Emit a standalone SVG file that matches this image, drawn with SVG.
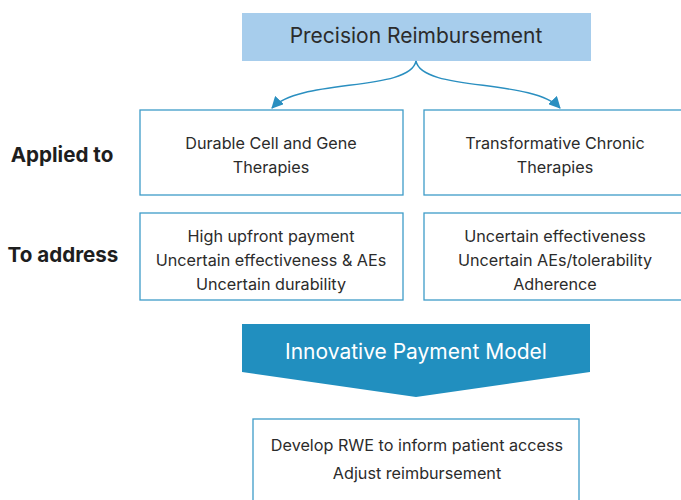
<svg xmlns="http://www.w3.org/2000/svg" width="681" height="500" viewBox="0 0 681 500">
<style>
text{font-family:Inter,"Liberation Sans",sans-serif;fill:#2b2b2b;text-anchor:middle}
.box{fill:#fff;stroke:#3e9cc8;stroke-width:1.3}
.t{font-size:16.2px}
.lab{font-size:20.6px;font-weight:bold;fill:#1e1e1e}
.con{fill:none;stroke:#2a8fc0;stroke-width:1.4}
</style>
<defs>
<marker id="ah" markerWidth="14" markerHeight="12" refX="11" refY="6" orient="auto" markerUnits="userSpaceOnUse">
<path d="M0,0 L12,6 L0,12 z" fill="#2a8fc0"/>
</marker>
</defs>
<rect width="681" height="500" fill="#fff"/>
<g id="top">
<rect x="242" y="13" width="349" height="48" fill="#a7cdec"/>
<text x="416" y="43" style="font-size:21px">Precision Reimbursement</text>
</g>
<g id="connectors">
<path class="con" d="M416,61 C410,92 300,78 272,108" marker-end="url(#ah)"/>
<path class="con" d="M416,61 C422,92 532,78 560,108" marker-end="url(#ah)"/>
</g>
<g id="label1"><text class="lab" x="62" y="162">Applied to</text></g>
<g id="label2"><text class="lab" x="63" y="262">To address</text></g>
<g id="n1">
<rect class="box" x="140" y="110" width="263" height="85"/>
<text class="t" x="271" y="149">Durable Cell and Gene</text>
<text class="t" x="271" y="173">Therapies</text>
</g>
<g id="n2">
<rect class="box" x="424" y="110" width="262" height="85"/>
<text class="t" x="555" y="149">Transformative Chronic</text>
<text class="t" x="555" y="173">Therapies</text>
</g>
<g id="n3">
<rect class="box" x="140" y="213" width="263" height="87"/>
<text class="t" x="271" y="242">High upfront payment</text>
<text class="t" x="271" y="266">Uncertain effectiveness &amp; AEs</text>
<text class="t" x="271" y="290">Uncertain durability</text>
</g>
<g id="n4">
<rect class="box" x="424" y="213" width="262" height="87"/>
<text class="t" x="555" y="242">Uncertain effectiveness</text>
<text class="t" x="555" y="266">Uncertain AEs/tolerability</text>
<text class="t" x="555" y="290">Adherence</text>
</g>
<g id="ipm">
<path d="M242,324 L590,324 L590,372 L416,397 L242,372 z" fill="#218fbf"/>
<text x="416" y="359" style="font-size:21px;fill:#fff">Innovative Payment Model</text>
</g>
<g id="n5">
<rect class="box" x="253" y="419" width="326" height="90"/>
<text class="t" x="417" y="451">Develop RWE to inform patient access</text>
<text class="t" x="417" y="479">Adjust reimbursement</text>
</g>
</svg>
